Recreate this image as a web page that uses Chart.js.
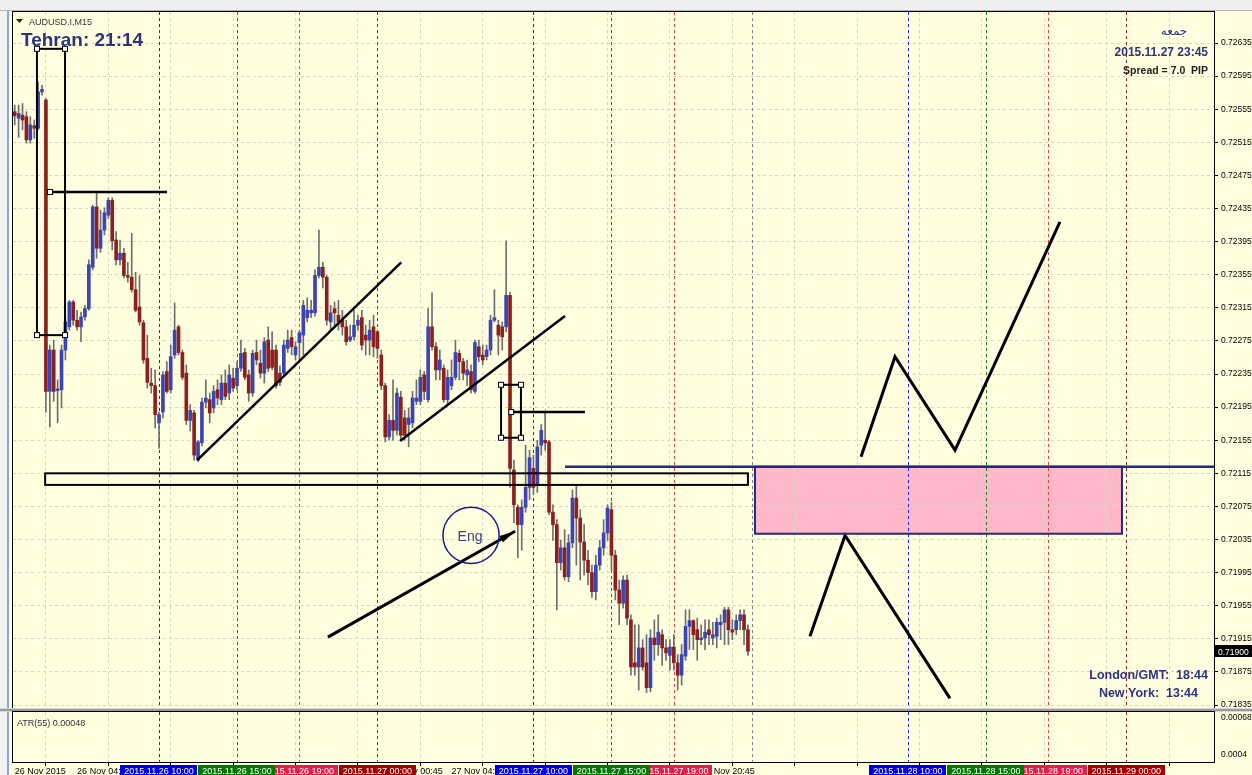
<!DOCTYPE html>
<html>
<head>
<meta charset="utf-8">
<title>AUDUSD.I,M15</title>
<script src="https://cdn.jsdelivr.net/npm/chart.js@4.4.0/dist/chart.umd.min.js"></script>
<style>
  html, body { margin: 0; padding: 0; background: #ffffe0; }
  body { width: 1252px; height: 775px; position: relative; overflow: hidden; }
  #mainChart { position: absolute; left: 0; top: 0; }
  #atrChart { position: absolute; left: 0; top: 710px; }
</style>
</head>
<body>
<canvas id="mainChart" width="1252" height="710"></canvas>
<canvas id="atrChart" width="1252" height="65"></canvas>
<script>
// M15 candles, 26 Nov 00:45 .. 27 Nov 23:45 (index 0 = first visible bar)
const opens = [
  0.72552,0.72544,0.72548,0.72546,0.72518,0.72535,0.72532,0.72576,0.72566,0.72214,
  0.72264,0.72215,0.72216,0.72264,0.72292,0.72322,0.72300,0.72292,0.72304,0.72314,
  0.72364,0.72437,0.72387,0.72409,0.72427,0.72445,0.72397,0.72373,0.72381,0.72354,
  0.72352,0.72337,0.72316,0.72297,0.72254,0.72224,0.72221,0.72176,0.72189,0.72238,
  0.72216,0.72258,0.72292,0.72261,0.72236,0.72179,0.72188,0.72131,0.72152,0.72201,
  0.72204,0.72194,0.72216,0.72204,0.72224,0.72212,0.72230,0.72221,0.72242,0.72261,
  0.72234,0.72212,0.72261,0.72248,0.72236,0.72276,0.72264,0.72264,0.72236,0.72236,
  0.72266,0.72279,0.72258,0.72273,0.72282,0.72303,0.72309,0.72309,0.72354,0.72364,
  0.72352,0.72298,0.72314,0.72306,0.72300,0.72292,0.72276,0.72280,0.72294,0.72303,
  0.72282,0.72276,0.72292,0.72286,0.72258,0.72221,0.72159,0.72179,0.72167,0.72207,
  0.72182,0.72174,0.72176,0.72202,0.72202,0.72234,0.72204,0.72292,0.72268,0.72240,
  0.72242,0.72204,0.72221,0.72231,0.72260,0.72250,0.72234,0.72238,0.72214,0.72268,
  0.72258,0.72256,0.72264,0.72300,0.72294,0.72292,0.72292,0.72330,0.72119,0.72074,
  0.72053,0.72074,0.72098,0.72121,0.72101,0.72149,0.72155,0.72153,0.72068,0.72053,
  0.72007,0.72025,0.71990,0.72031,0.72085,0.72061,0.72032,0.72010,0.71995,0.71972,
  0.72004,0.72025,0.72043,0.72071,0.72016,0.71974,0.71958,0.71986,0.71938,0.71886,
  0.71881,0.71904,0.71886,0.71856,0.71916,0.71908,0.71920,0.71904,0.71895,0.71905,
  0.71886,0.71871,0.71894,0.71930,0.71937,0.71926,0.71914,0.71916,0.71926,0.71916,
  0.71918,0.71932,0.71935,0.71950,0.71926,0.71926,0.71937,0.71944,0.71926
];
const highs = [
  0.72560,0.72560,0.72562,0.72552,0.72546,0.72542,0.72588,0.72584,0.72568,0.72270,
  0.72276,0.72228,0.72270,0.72303,0.72324,0.72324,0.72312,0.72310,0.72318,0.72373,
  0.72439,0.72454,0.72433,0.72436,0.72448,0.72448,0.72407,0.72397,0.72387,0.72370,
  0.72405,0.72358,0.72354,0.72300,0.72282,0.72242,0.72240,0.72189,0.72238,0.72250,
  0.72270,0.72321,0.72294,0.72264,0.72246,0.72198,0.72191,0.72155,0.72206,0.72228,
  0.72212,0.72221,0.72228,0.72234,0.72240,0.72246,0.72242,0.72250,0.72276,0.72266,
  0.72240,0.72264,0.72276,0.72264,0.72279,0.72292,0.72286,0.72270,0.72245,0.72276,
  0.72288,0.72288,0.72274,0.72288,0.72324,0.72327,0.72324,0.72361,0.72409,0.72370,
  0.72354,0.72318,0.72322,0.72324,0.72312,0.72300,0.72294,0.72312,0.72306,0.72312,
  0.72294,0.72300,0.72306,0.72288,0.72264,0.72224,0.72186,0.72228,0.72218,0.72214,
  0.72191,0.72194,0.72214,0.72228,0.72240,0.72238,0.72314,0.72333,0.72273,0.72264,
  0.72246,0.72240,0.72252,0.72276,0.72264,0.72254,0.72252,0.72246,0.72276,0.72276,
  0.72270,0.72270,0.72306,0.72337,0.72300,0.72298,0.72396,0.72334,0.72131,0.72077,
  0.72083,0.72149,0.72143,0.72137,0.72155,0.72174,0.72188,0.72155,0.72077,0.72059,
  0.72034,0.72047,0.72041,0.72095,0.72100,0.72071,0.72053,0.72022,0.72004,0.72016,
  0.72034,0.72059,0.72077,0.72080,0.72022,0.71986,0.71991,0.71992,0.71944,0.71932,
  0.71932,0.71914,0.71920,0.71926,0.71938,0.71944,0.71926,0.71914,0.71914,0.71920,
  0.71896,0.71908,0.71950,0.71950,0.71938,0.71940,0.71932,0.71938,0.71938,0.71935,
  0.71940,0.71944,0.71953,0.71953,0.71938,0.71944,0.71950,0.71950,0.71932
];
const lows = [
  0.72536,0.72521,0.72530,0.72514,0.72514,0.72520,0.72530,0.72572,0.72189,0.72171,
  0.72202,0.72176,0.72194,0.72252,0.72288,0.72294,0.72288,0.72274,0.72300,0.72312,
  0.72361,0.72375,0.72382,0.72403,0.72423,0.72385,0.72367,0.72367,0.72351,0.72346,
  0.72334,0.72310,0.72294,0.72248,0.72218,0.72212,0.72170,0.72145,0.72182,0.72212,
  0.72212,0.72254,0.72258,0.72228,0.72174,0.72166,0.72131,0.72129,0.72148,0.72194,
  0.72176,0.72188,0.72198,0.72198,0.72204,0.72204,0.72214,0.72216,0.72238,0.72228,
  0.72202,0.72208,0.72246,0.72230,0.72224,0.72238,0.72240,0.72218,0.72221,0.72232,
  0.72261,0.72258,0.72252,0.72250,0.72258,0.72298,0.72303,0.72305,0.72351,0.72339,
  0.72294,0.72288,0.72294,0.72288,0.72282,0.72270,0.72274,0.72276,0.72288,0.72264,
  0.72258,0.72258,0.72256,0.72254,0.72216,0.72153,0.72155,0.72155,0.72161,0.72155,
  0.72155,0.72147,0.72170,0.72198,0.72198,0.72204,0.72201,0.72264,0.72228,0.72228,
  0.72201,0.72198,0.72216,0.72228,0.72228,0.72228,0.72221,0.72212,0.72212,0.72250,
  0.72246,0.72252,0.72258,0.72298,0.72258,0.72264,0.72286,0.72098,0.72055,0.72013,
  0.72022,0.72068,0.72083,0.72089,0.72092,0.72137,0.72143,0.72065,0.72034,0.71950,
  0.71998,0.71986,0.71984,0.72025,0.72004,0.71986,0.71992,0.71980,0.71965,0.71962,
  0.71998,0.72016,0.72034,0.71998,0.71962,0.71932,0.71952,0.71932,0.71871,0.71871,
  0.71853,0.71877,0.71850,0.71851,0.71889,0.71895,0.71883,0.71889,0.71877,0.71877,
  0.71853,0.71859,0.71889,0.71902,0.71902,0.71889,0.71908,0.71902,0.71908,0.71908,
  0.71904,0.71914,0.71908,0.71908,0.71914,0.71920,0.71926,0.71908,0.71895
];
const closes = [
  0.72547,0.72550,0.72542,0.72518,0.72536,0.72532,0.72576,0.72579,0.72214,0.72264,
  0.72214,0.72217,0.72264,0.72298,0.72322,0.72300,0.72292,0.72304,0.72314,0.72367,
  0.72437,0.72387,0.72409,0.72430,0.72445,0.72396,0.72373,0.72381,0.72354,0.72352,
  0.72337,0.72312,0.72298,0.72252,0.72225,0.72221,0.72186,0.72186,0.72234,0.72214,
  0.72256,0.72288,0.72261,0.72231,0.72179,0.72191,0.72137,0.72153,0.72201,0.72206,
  0.72188,0.72214,0.72206,0.72224,0.72208,0.72234,0.72218,0.72242,0.72260,0.72231,
  0.72212,0.72260,0.72252,0.72236,0.72274,0.72242,0.72243,0.72221,0.72225,0.72270,
  0.72276,0.72268,0.72268,0.72285,0.72318,0.72312,0.72312,0.72354,0.72364,0.72352,
  0.72300,0.72309,0.72309,0.72298,0.72292,0.72274,0.72280,0.72294,0.72300,0.72270,
  0.72276,0.72288,0.72268,0.72266,0.72221,0.72159,0.72179,0.72167,0.72212,0.72161,
  0.72161,0.72182,0.72206,0.72206,0.72231,0.72214,0.72292,0.72268,0.72240,0.72252,
  0.72204,0.72231,0.72231,0.72261,0.72250,0.72236,0.72240,0.72216,0.72273,0.72256,
  0.72252,0.72264,0.72300,0.72303,0.72282,0.72280,0.72330,0.72121,0.72077,0.72053,
  0.72074,0.72098,0.72134,0.72098,0.72147,0.72167,0.72152,0.72068,0.72053,0.72007,
  0.72025,0.71990,0.72031,0.72085,0.72061,0.72032,0.72010,0.71995,0.71972,0.72004,
  0.72025,0.72043,0.72073,0.72016,0.71974,0.71958,0.71986,0.71940,0.71881,0.71881,
  0.71904,0.71881,0.71856,0.71916,0.71908,0.71923,0.71904,0.71898,0.71905,0.71886,
  0.71871,0.71896,0.71930,0.71937,0.71920,0.71914,0.71916,0.71923,0.71920,0.71920,
  0.71935,0.71935,0.71950,0.71926,0.71923,0.71937,0.71944,0.71926,0.71900
];

// axis ticks
const priceTicks = [0.72635,0.72595,0.72555,0.72515,0.72475,0.72435,0.72395,0.72355,0.72315,0.72275,
  0.72235,0.72195,0.72155,0.72115,0.72075,0.72035,0.71995,0.71955,0.71915,0.71875,0.71835];
const atrTicks = [0.00068, 0.0004];
const atrTickLabels = ['0.00068', '0.0004'];
const timeTickIdx = [0,16,32,48,64,80,96,112,128,144,160,176,192,208,224,240,256,272,288,304];
const timeTickLabels = ['26 Nov 2015','26 Nov 04:45','26 Nov 08:45','26 Nov 12:45','26 Nov 16:45','26 Nov 20:45',
  '27 Nov 00:45','27 Nov 04:45','27 Nov 08:45','27 Nov 12:45','27 Nov 16:45','27 Nov 20:45'];

// session separators (bar index), their labels and kinds
const sepIdx = [37,57,73,93,133,153,169,189,229,249,265,285];
const sepLabels = ['2015.11.26 10:00','2015.11.26 15:00','2015.11.26 19:00','2015.11.27 00:00',
  '2015.11.27 10:00','2015.11.27 15:00','2015.11.27 19:00','',
  '2015.11.28 10:00','2015.11.28 15:00','2015.11.28 19:00','2015.11.29 00:00'];
const sepKinds = ['b','g','r','d','b','g','r','n','b','g','r','d'];

// hand drawn objects: [bar index, price]
const trendA = [[46.8,0.72131],[99.1,0.72370]];
const trendB = [[98.8,0.72154],[141.1,0.72305]];
const levelHigh = [[9.05,0.72455],[39.05,0.72455]];
const levelMid = [[127.3,0.72189],[146.2,0.72189]];
const arrowEng = [[80.3,0.71917],[128.3,0.72045]];
const zigUp = [[217.0,0.72135],[225.7,0.72256],[241.1,0.72143],[268.0,0.72419]];
const zigDown = [[203.9,0.71918],[212.9,0.72040],[239.8,0.71843]];
const blueLevel = [[141.1,0.72123],[307.5,0.72123]];
const rectTall = [[5.7,0.72628],[12.9,0.72282]];
const rectSmall = [[124.7,0.72222],[129.8,0.72158]];
const rectSupport = [[7.8,0.72115],[188.0,0.72101]];
const rectZone = [[189.8,0.72123],[283.9,0.72042]];
const circleEng = [117.0, 0.72040, 7.2];

const X_MIN = -0.44, X_MAX = 307.5;
const Y_MIN = 0.718314, Y_MAX = 0.726725;
const ATR_MIN = 0.000347, ATR_MAX = 0.0007254;

const BG = '#ffffe0';
const GRID = '#d6d6c2';
const BULL = '#3c44b4';
const BEAR = '#8c1f1f';
const WICK = '#6e6e6e';
const NAVY = '#1f2a80';
const TEXT_NAVY = '#2e347c';
const SEP_LINE = { b: '#2323d0', g: '#237d23', r: '#d24a4a', d: '#8c2a2a', n: '#808080' };
const SEP_BOX = { b: '#0000e6', g: '#007800', r: '#e01e48', d: '#a00000' };
const FONT = 'Liberation Sans';

const pts = arr => arr.map(p => ({ x: p[0], y: p[1] }));

function lineSet(arr, color, width) {
  return { type: 'line', data: pts(arr), borderColor: color, borderWidth: width,
    pointRadius: 0, tension: 0, fill: false, order: 0 };
}

function drawFrameBg(chart) {
  const { ctx } = chart;
  ctx.save();
  ctx.fillStyle = BG;
  ctx.fillRect(0, 0, chart.width, chart.height);
  ctx.fillStyle = '#f2f2f2';
  ctx.fillRect(0, 0, 9, chart.height);
  ctx.fillStyle = '#8ea8d4';
  ctx.fillRect(7, 0, 2, chart.height);
  ctx.restore();
}

function drawSeparators(chart) {
  const { ctx, chartArea: a, scales: { x } } = chart;
  ctx.save();
  ctx.lineWidth = 1;
  sepIdx.forEach((v, i) => {
    const px = Math.round(x.getPixelForValue(v)) + 0.5;
    ctx.strokeStyle = SEP_LINE[sepKinds[i]];
    ctx.setLineDash([3, 3]);
    ctx.beginPath();
    ctx.moveTo(px, a.top);
    ctx.lineTo(px, a.bottom);
    ctx.stroke();
  });
  ctx.restore();
}

function drawHandle(ctx, x, y) {
  ctx.fillStyle = '#ffffff';
  ctx.fillRect(x - 2.5, y - 2.5, 5, 5);
  ctx.strokeStyle = '#000';
  ctx.lineWidth = 1;
  ctx.strokeRect(x - 2.5, y - 2.5, 5, 5);
}

const mainBg = {
  id: 'mainBg',
  beforeDraw(chart) {
    drawFrameBg(chart);
    const { ctx, scales: { x, y } } = chart;
    ctx.save();
    ctx.fillStyle = '#f0f0f0';
    ctx.fillRect(0, 0, chart.width, 11);
    ctx.fillStyle = '#b4b4b4';
    ctx.fillRect(0, 10, chart.width, 1);
    // pink zone under the grid
    const x1 = x.getPixelForValue(rectZone[0][0]), x2 = x.getPixelForValue(rectZone[1][0]);
    const y1 = y.getPixelForValue(rectZone[0][1]), y2 = y.getPixelForValue(rectZone[1][1]);
    ctx.fillStyle = '#ffb8c9';
    ctx.fillRect(x1, y1, x2 - x1, y2 - y1);
    ctx.restore();
  },
  beforeDatasetsDraw(chart) {
    drawSeparators(chart);
  },
  afterDraw(chart) {
    const { ctx, chartArea: a, scales: { x, y } } = chart;
    const px = v => x.getPixelForValue(v);
    const py = v => y.getPixelForValue(v);
    ctx.save();

    // frame
    ctx.strokeStyle = '#000';
    ctx.lineWidth = 1;
    ctx.strokeRect(a.left - 0.5, a.top - 0.5, a.right - a.left + 1, a.bottom - a.top + 1);

    // rectangles
    const rect = (r, color, w) => {
      ctx.strokeStyle = color;
      ctx.lineWidth = w;
      ctx.strokeRect(px(r[0][0]), py(r[0][1]), px(r[1][0]) - px(r[0][0]), py(r[1][1]) - py(r[0][1]));
    };
    rect(rectSupport, '#000', 2);
    rect(rectTall, '#000', 2);
    rect(rectSmall, '#000', 2);
    rect(rectZone, NAVY, 2);

    // handles
    [rectTall, rectSmall].forEach(r => {
      drawHandle(ctx, px(r[0][0]), py(r[0][1]));
      drawHandle(ctx, px(r[1][0]), py(r[0][1]));
      drawHandle(ctx, px(r[0][0]), py(r[1][1]));
      drawHandle(ctx, px(r[1][0]), py(r[1][1]));
    });
    drawHandle(ctx, px(levelHigh[0][0]), py(levelHigh[0][1]));
    drawHandle(ctx, px(levelMid[0][0]), py(levelMid[0][1]));

    // arrow head
    const ax0 = px(arrowEng[0][0]), ay0 = py(arrowEng[0][1]);
    const ax1 = px(arrowEng[1][0]), ay1 = py(arrowEng[1][1]);
    const ang = Math.atan2(ay1 - ay0, ax1 - ax0);
    ctx.fillStyle = '#000';
    ctx.beginPath();
    ctx.moveTo(ax1, ay1);
    ctx.lineTo(ax1 - 16 * Math.cos(ang) + 3.5 * Math.sin(ang), ay1 - 16 * Math.sin(ang) - 3.5 * Math.cos(ang));
    ctx.lineTo(ax1 - 16 * Math.cos(ang) - 3.5 * Math.sin(ang), ay1 - 16 * Math.sin(ang) + 3.5 * Math.cos(ang));
    ctx.closePath();
    ctx.fill();

    // circle with Eng
    const cx = px(circleEng[0]), cy = py(circleEng[1]);
    const r = px(circleEng[0] + circleEng[2]) - cx;
    ctx.strokeStyle = '#1a1a8c';
    ctx.lineWidth = 1.5;
    ctx.beginPath();
    ctx.arc(cx, cy, r, 0, Math.PI * 2);
    ctx.stroke();
    ctx.fillStyle = '#3a3f8c';
    ctx.font = '14px ' + FONT;
    ctx.textAlign = 'center';
    ctx.textBaseline = 'alphabetic';
    ctx.fillText('Eng', cx - 1, cy + 6);

    // header texts
    ctx.textAlign = 'left';
    ctx.fillStyle = '#222';
    ctx.beginPath();
    ctx.moveTo(16, 19); ctx.lineTo(23, 19); ctx.lineTo(19.5, 23); ctx.closePath();
    ctx.fill();
    ctx.font = '9px ' + FONT;
    ctx.fillStyle = '#333';
    ctx.fillText('AUDUSD.I,M15', 29, 25);
    ctx.font = 'bold 19px ' + FONT;
    ctx.fillStyle = TEXT_NAVY;
    ctx.fillText('Tehran: 21:14', 21, 46);

    ctx.textAlign = 'center';
    ctx.font = '12px "DejaVu Sans"';
    ctx.fillText('جمعه', 1174, 35);
    ctx.textAlign = 'right';
    ctx.font = 'bold 12px ' + FONT;
    ctx.fillText('2015.11.27 23:45', 1208, 56);
    ctx.font = 'bold 10.5px ' + FONT;
    ctx.fillStyle = '#222';
    ctx.fillText('Spread = 7.0  PIP', 1208, 74);
    ctx.font = 'bold 12.5px ' + FONT;
    ctx.fillStyle = TEXT_NAVY;
    ctx.fillText('London/GMT:  18:44', 1208, 679);
    ctx.fillText('New York:  13:44', 1198, 697);

    // current price label
    const last = closes[closes.length - 1];
    const yp = Math.round(py(last));
    ctx.fillStyle = '#000';
    ctx.fillRect(a.right + 1, yp - 6, chart.width - a.right - 1, 12);
    ctx.fillStyle = '#fff';
    ctx.textAlign = 'left';
    ctx.font = '8.5px ' + FONT;
    ctx.fillText(last.toFixed(5), a.right + 4, yp + 3.5);

    // panel separator
    ctx.fillStyle = '#9a9a9a';
    ctx.fillRect(0, a.bottom + 1, chart.width, 1);
    ctx.fillStyle = '#d6d6d6';
    ctx.fillRect(0, a.bottom + 0, chart.width, 1);
    ctx.restore();
  }
};

const atrBg = {
  id: 'atrBg',
  beforeDraw(chart) {
    drawFrameBg(chart);
    const { ctx } = chart;
    ctx.save();
    ctx.fillStyle = '#9a9a9a';
    ctx.fillRect(0, 0, chart.width, 1);
    ctx.fillStyle = '#d6d6d6';
    ctx.fillRect(0, 1, chart.width, 1);
    ctx.restore();
  },
  beforeDatasetsDraw(chart) {
    drawSeparators(chart);
  },
  afterDraw(chart) {
    const { ctx, chartArea: a, scales: { x } } = chart;
    ctx.save();
    ctx.strokeStyle = '#000';
    ctx.lineWidth = 1;
    ctx.strokeRect(a.left - 0.5, a.top - 0.5, a.right - a.left + 1, a.bottom - a.top + 1);
    ctx.fillStyle = '#333';
    ctx.font = '9px ' + FONT;
    ctx.textAlign = 'left';
    ctx.fillText('ATR(55) 0.00048', 17, 16);

    // session labels on the time axis, red ones first so the others overlap them
    const order = sepIdx.map((v, i) => i).sort((i, j) => (sepKinds[i] === 'r' ? 0 : 1) - (sepKinds[j] === 'r' ? 0 : 1));
    ctx.textAlign = 'center';
    order.forEach(i => {
      if (!sepLabels[i]) return;
      const cx = x.getPixelForValue(sepIdx[i]);
      const w = ctx.measureText(sepLabels[i]).width + 8;
      ctx.fillStyle = SEP_BOX[sepKinds[i]];
      ctx.fillRect(Math.round(cx - w / 2), 55, Math.round(w), 10);
      ctx.fillStyle = '#fff';
      ctx.fillText(sepLabels[i], cx, 63.5);
    });
    ctx.restore();
  }
};

const bodyData = opens.map((o, i) => ({ x: i, y: [o, closes[i]] }));
const wickData = opens.map((o, i) => ({ x: i, y: [lows[i], highs[i]] }));
const bodyColors = opens.map((o, i) => closes[i] >= o ? BULL : BEAR);

const mainChart = new Chart(document.getElementById('mainChart').getContext('2d'), {
  type: 'bar',
  data: {
    datasets: [
      { label: 'wick', data: wickData, backgroundColor: WICK, barThickness: 1, grouped: false, order: 2 },
      { label: 'body', data: bodyData, backgroundColor: bodyColors, barThickness: 3, minBarLength: 1, grouped: false, order: 1 },
      lineSet(trendA, '#000', 2.5),
      lineSet(trendB, '#000', 2.5),
      lineSet(levelHigh, '#000', 2.5),
      lineSet(levelMid, '#000', 2.5),
      lineSet(arrowEng, '#000', 3),
      lineSet(zigUp, '#000', 3),
      lineSet(zigDown, '#000', 3),
      lineSet(blueLevel, NAVY, 2.5)
    ]
  },
  options: {
    responsive: false,
    animation: false,
    events: [],
    devicePixelRatio: 1,
    layout: { padding: { left: 13, top: 12, right: 0, bottom: 2 } },
    plugins: { legend: { display: false }, tooltip: { enabled: false } },
    scales: {
      x: {
        type: 'linear', min: X_MIN, max: X_MAX, offset: false,
        afterBuildTicks: s => { s.ticks = timeTickIdx.map(v => ({ value: v })); },
        afterFit: s => { s.height = 0; s.paddingLeft = 0; s.paddingRight = 0; },
        ticks: { display: false },
        grid: { color: GRID, drawTicks: false, lineWidth: 1 },
        border: { display: false, dash: [3, 3] }
      },
      y: {
        position: 'right', min: Y_MIN, max: Y_MAX,
        afterBuildTicks: s => { s.ticks = priceTicks.map(v => ({ value: v })); },
        afterFit: s => { s.width = 38; s.paddingTop = 0; s.paddingBottom = 0; },
        ticks: { autoSkip: false, padding: 3, color: '#000', font: { family: FONT, size: 8.5 },
          callback: v => Number(v).toFixed(5) },
        grid: { color: GRID, tickColor: '#000', tickLength: 4, lineWidth: 1 },
        border: { display: true, color: '#000', width: 1, dash: [3, 3] }
      }
    }
  },
  plugins: [mainBg]
});

const atrChart = new Chart(document.getElementById('atrChart').getContext('2d'), {
  type: 'bar',
  data: { datasets: [] },
  options: {
    responsive: false,
    animation: false,
    events: [],
    devicePixelRatio: 1,
    layout: { padding: { left: 13, top: 2, right: 0, bottom: 0 } },
    plugins: { legend: { display: false }, tooltip: { enabled: false } },
    scales: {
      x: {
        type: 'linear', min: X_MIN, max: X_MAX, offset: false,
        afterBuildTicks: s => { s.ticks = timeTickIdx.map(v => ({ value: v })); },
        afterFit: s => { s.height = 13; s.paddingLeft = 0; s.paddingRight = 0; },
        ticks: { autoSkip: false, maxRotation: 0, minRotation: 0, align: 'start', padding: 0,
          color: '#000', font: { family: FONT, size: 9 },
          callback: (v, i) => timeTickLabels[i] || '' },
        grid: { color: GRID, tickColor: '#000', tickLength: 4, lineWidth: 1 },
        border: { display: true, color: '#000', width: 1, dash: [3, 3] }
      },
      y: {
        position: 'right', min: ATR_MIN, max: ATR_MAX,
        afterBuildTicks: s => { s.ticks = atrTicks.map(v => ({ value: v })); },
        afterFit: s => { s.width = 38; s.paddingTop = 0; s.paddingBottom = 0; },
        ticks: { autoSkip: false, padding: 7, color: '#000', font: { family: FONT, size: 8.5 },
          callback: (v, i) => atrTickLabels[i] },
        grid: { display: false, drawTicks: false },
        border: { display: true, color: '#000', width: 1 }
      }
    }
  },
  plugins: [atrBg]
});
</script>
</body>
</html>
